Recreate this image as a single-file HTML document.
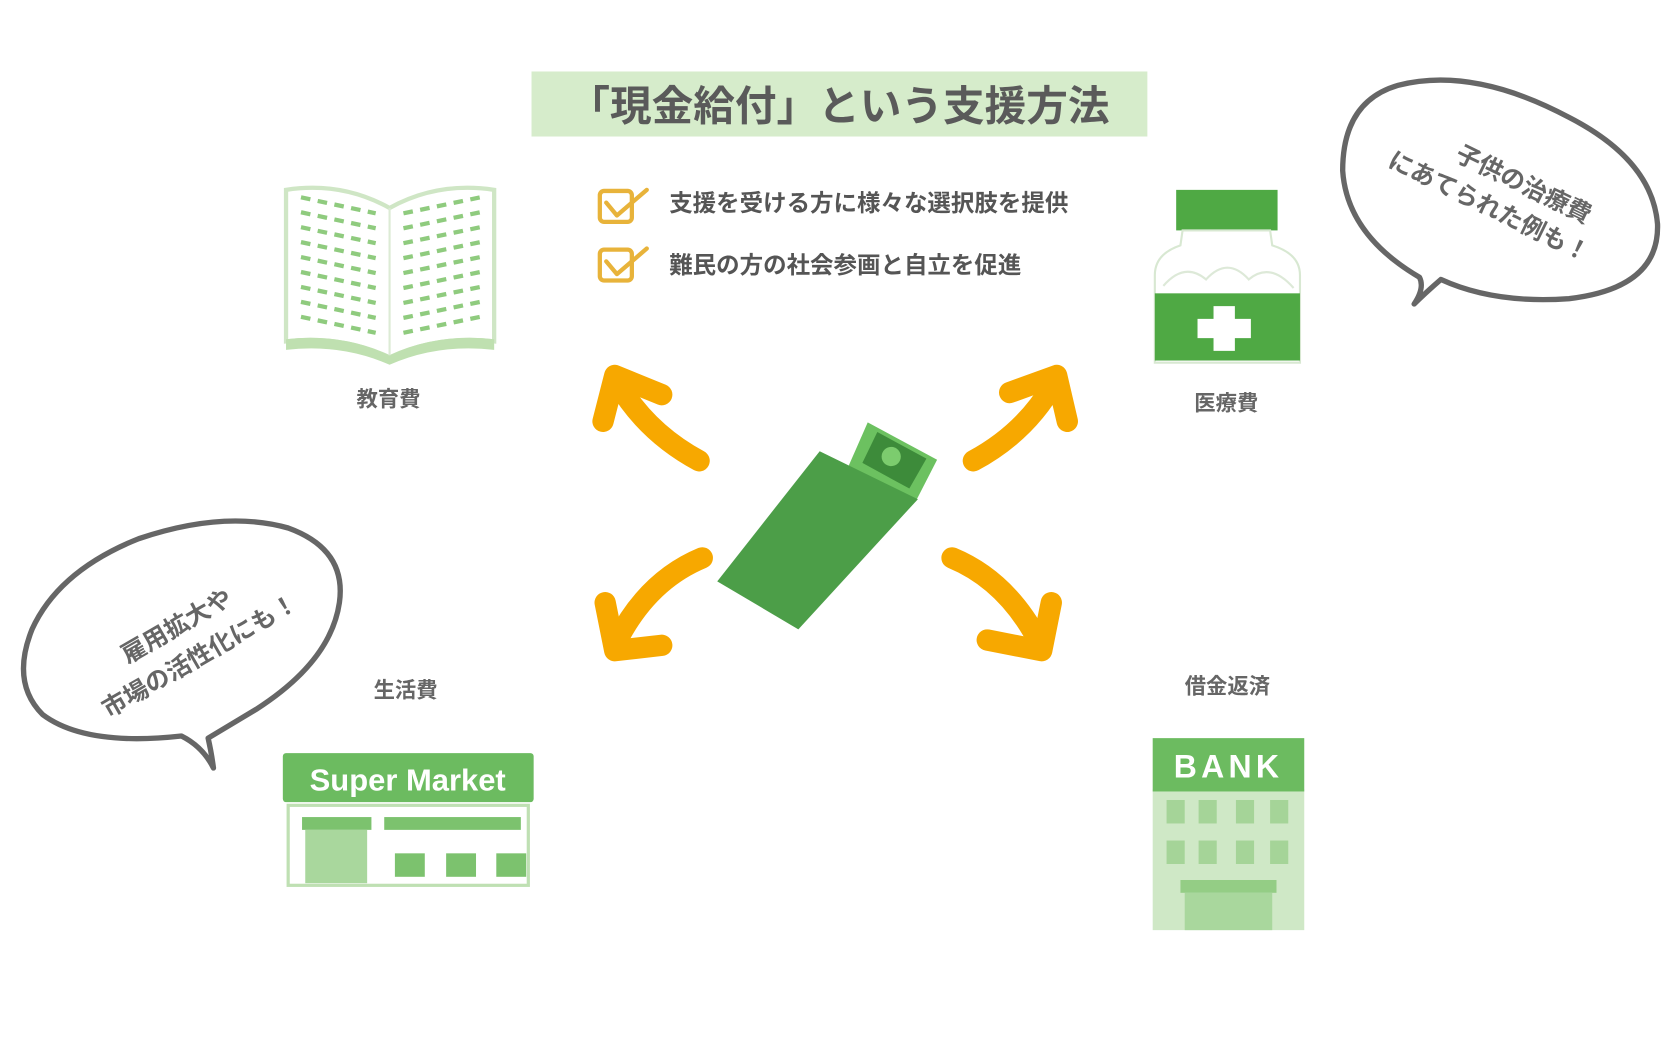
<!DOCTYPE html>
<html><head><meta charset="utf-8"><style>
html,body{margin:0;padding:0;background:#fff;width:1665px;height:1040px;overflow:hidden}
svg{display:block}
text{font-family:"Liberation Sans","Noto Sans CJK JP",sans-serif}
</style></head><body>
<svg width="1665" height="1040" viewBox="0 0 1560 975" preserveAspectRatio="none" xmlns="http://www.w3.org/2000/svg">
<rect x="498" y="67" width="577" height="61" fill="#d6eccb"/>
<text x="786" y="113" font-size="39" font-weight="bold" fill="#5a5a5a" text-anchor="middle">「現金給付」という支援方法</text>
<g fill="none" stroke="#e8b33a" stroke-width="4" stroke-linecap="round" stroke-linejoin="round">
<rect x="562" y="179" width="30" height="29" rx="4"/>
<path d="M568,190 L578,202 L606,178"/>
<rect x="562" y="234" width="30" height="29" rx="4"/>
<path d="M568,245 L578,257 L606,233"/>
</g>
<text x="627" y="198" font-size="22" font-weight="bold" fill="#555">支援を受ける方に様々な選択肢を提供</text>
<text x="627" y="256" font-size="22" font-weight="bold" fill="#555">難民の方の社会参画と自立を促進</text>
<path d="M268,178 Q320,170 365,195 Q410,170 463,178 L463,320 Q410,314 365,335 Q320,314 268,320 Z" fill="#fff" stroke="#cfe6c5" stroke-width="4"/>
<path d="M268,318 Q320,312 365,333 Q410,312 463,318 L463,328 Q410,322 365,342 Q320,322 268,328 Z" fill="#bfe0b0"/>
<line x1="365" y1="195" x2="365" y2="333" stroke="#dcebd5" stroke-width="2"/>
<g stroke="#8fcb7e" stroke-width="4" stroke-dasharray="9 7">
<line x1="282" y1="185" x2="352" y2="200"/><line x1="282" y1="199" x2="352" y2="214"/><line x1="282" y1="213" x2="352" y2="228"/><line x1="282" y1="227" x2="352" y2="242"/><line x1="282" y1="241" x2="352" y2="256"/><line x1="282" y1="255" x2="352" y2="270"/><line x1="282" y1="269" x2="352" y2="284"/><line x1="282" y1="283" x2="352" y2="298"/><line x1="282" y1="297" x2="352" y2="312"/>
<line x1="378" y1="200" x2="450" y2="185"/><line x1="378" y1="214" x2="450" y2="199"/><line x1="378" y1="228" x2="450" y2="213"/><line x1="378" y1="242" x2="450" y2="227"/><line x1="378" y1="256" x2="450" y2="241"/><line x1="378" y1="270" x2="450" y2="255"/><line x1="378" y1="284" x2="450" y2="269"/><line x1="378" y1="298" x2="450" y2="283"/><line x1="378" y1="312" x2="450" y2="297"/>
</g>
<text x="364" y="381" font-size="20" font-weight="bold" fill="#666" text-anchor="middle">教育費</text>
<rect x="1102" y="178" width="95" height="38" fill="#4fa944"/>
<path d="M1108,216 L1190,216 L1192,230 Q1218,238 1218,258 L1218,340 L1082,340 L1082,258 Q1082,238 1106,230 Z" fill="#fff" stroke="#d8e8d2" stroke-width="2"/>
<path d="M1090,268 Q1110,245 1130,262 Q1150,240 1170,262 Q1190,245 1212,270" fill="none" stroke="#dde9d8" stroke-width="2"/>
<rect x="1082" y="275" width="136" height="63" fill="#4fa944"/>
<path d="M1137,287 h20 v12 h15 v18 h-15 v12 h-20 v-12 h-15 v-18 h15 z" fill="#fff"/>
<text x="1149" y="385" font-size="20" font-weight="bold" fill="#666" text-anchor="middle">医療費</text>
<path d="M1330,260 Q1262,220 1258,160 Q1258,95 1310,80 Q1380,62 1470,110 Q1548,150 1553,210 Q1555,270 1470,280 Q1400,285 1350,262 Q1335,275 1325,285 Q1335,270 1330,260 Z" fill="#fff" stroke="#666" stroke-width="5" stroke-linejoin="round"/>
<g transform="rotate(26 1405 185)" font-size="23" font-weight="bold" fill="#666" text-anchor="middle">
<text x="1420" y="172">子供の治療費</text>
<text x="1400" y="205">にあてられた例も！</text>
</g>
<polygon points="813,396 878,431 858,470 795,437" fill="#6cc160"/>
<polygon points="822,405 868,430 852,458 808,434" fill="#3d8b3a"/>
<circle cx="835" cy="428" r="9" fill="#7ccc6e"/>
<polygon points="768,423 860,468 748,590 672,545" fill="#4c9e48"/>
<g fill="none" stroke="#f7a800" stroke-width="20" stroke-linecap="round" stroke-linejoin="round">
<path d="M655,432 Q605,405 578,358"/><path d="M565,395 L576,352 L620,370"/>
<path d="M912,432 Q962,405 988,358"/><path d="M946,368 L990,352 L1000,395"/>
<path d="M658,523 Q605,545 576,605"/><path d="M567,565 L576,610 L620,605"/>
<path d="M892,523 Q945,545 975,605"/><path d="M925,600 L976,610 L985,565"/>
</g>
<path d="M170,690 Q80,700 40,670 Q10,640 30,590 Q55,535 130,505 Q210,478 270,495 Q325,515 318,565 Q310,620 240,665 Q210,683 195,692 Q198,705 200,720 Q190,700 170,690 Z" fill="#fff" stroke="#666" stroke-width="5" stroke-linejoin="round"/>
<g transform="rotate(-30 170 605)" font-size="23" font-weight="bold" fill="#666" text-anchor="middle">
<text x="175" y="595">雇用拡大や</text>
<text x="180" y="630">市場の活性化にも！</text>
</g>
<text x="380" y="654" font-size="20" font-weight="bold" fill="#666" text-anchor="middle">生活費</text>
<rect x="270" y="755" width="225" height="75" fill="#fff" stroke="#bfe0b3" stroke-width="3"/>
<rect x="265" y="706" width="235" height="46" rx="3" fill="#6cbb60"/>
<text x="382" y="741" font-size="29" font-weight="bold" fill="#fff" text-anchor="middle">Super Market</text>
<rect x="283" y="766" width="65" height="12" fill="#7cc26e"/>
<rect x="286" y="778" width="58" height="50" fill="#a9d79d"/>
<rect x="360" y="766" width="128" height="12" fill="#7cc26e"/>
<rect x="370" y="800" width="28" height="22" fill="#7cc26e"/>
<rect x="418" y="800" width="28" height="22" fill="#7cc26e"/>
<rect x="465" y="800" width="28" height="22" fill="#7cc26e"/>
<text x="1150" y="650" font-size="20" font-weight="bold" fill="#666" text-anchor="middle">借金返済</text>
<rect x="1080" y="740" width="142" height="132" fill="#cfe8c6"/>
<rect x="1080" y="692" width="142" height="50" fill="#6cbb60"/>
<text x="1151" y="729" font-size="30" font-weight="bold" fill="#fff" text-anchor="middle" letter-spacing="4">BANK</text>
<g fill="#a5d498">
<rect x="1093" y="750" width="17" height="22"/><rect x="1123" y="750" width="17" height="22"/><rect x="1158" y="750" width="17" height="22"/><rect x="1190" y="750" width="17" height="22"/>
<rect x="1093" y="788" width="17" height="22"/><rect x="1123" y="788" width="17" height="22"/><rect x="1158" y="788" width="17" height="22"/><rect x="1190" y="788" width="17" height="22"/>
</g>
<rect x="1106" y="825" width="90" height="12" fill="#94cd85"/>
<rect x="1110" y="837" width="82" height="35" fill="#a9d79d"/>
</svg>
</body></html>
